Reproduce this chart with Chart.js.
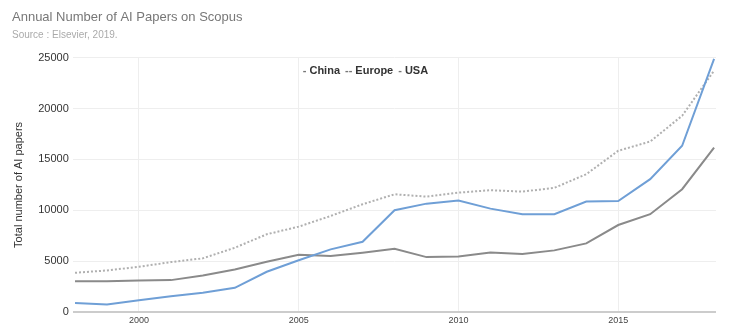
<!DOCTYPE html>
<html>
<head>
<meta charset="utf-8">
<title>Annual Number of AI Papers on Scopus</title>
<script src="https://cdn.jsdelivr.net/npm/chart.js@4.4.1/dist/chart.umd.min.js"></script>
<style>
  html, body { margin: 0; padding: 0; background: #fff; }
  #wrap { position: relative; width: 740px; height: 329px; }
</style>
</head>
<body>
<div id="wrap"><canvas id="papersChart"></canvas></div>
<script>
// Yearly paper counts, 1998 - 2018
const years = [1998, 1999, 2000, 2001, 2002, 2003, 2004, 2005, 2006, 2007, 2008,
               2009, 2010, 2011, 2012, 2013, 2014, 2015, 2016, 2017, 2018];
const china  = [910, 760, 1180, 1570, 1900, 2390, 3970, 5100, 6170, 6920, 10010,
                10660, 10960, 10170, 9620, 9620, 10860, 10920, 13060, 16340, 24870];
const europe = [3870, 4100, 4460, 4920, 5290, 6330, 7650, 8400, 9450, 10600, 11580,
                11350, 11740, 11980, 11840, 12210, 13550, 15850, 16760, 19290, 23720];
const usa    = [3050, 3050, 3120, 3150, 3610, 4200, 4950, 5640, 5510, 5840, 6230,
                5410, 5480, 5870, 5710, 6070, 6760, 8560, 9620, 12080, 16170];
const yearTicks = [2000, 2005, 2010, 2015];
const valueTicks = [0, 5000, 10000, 15000, 20000, 25000];

const FONT = "Arial, 'Liberation Sans', sans-serif";

function toPoints(values) {
    return values.map((v, i) => ({ x: years[i], y: v }));
}

// Small inline legend: "- China -- Europe - USA"
const inlineLegend = {
    id: 'inlineLegend',
    afterDraw(chart) {
        const ctx = chart.ctx;
        const area = chart.chartArea;
        let x = area.left + 230;
        const y = area.top + 13;
        ctx.save();
        ctx.font = 'bold 11px ' + FONT;
        ctx.textBaseline = 'middle';
        chart.data.datasets.forEach(ds => {
            const dashed = ds.borderDash && ds.borderDash.length;
            ctx.fillStyle = '#777';
            ctx.fillText(dashed ? '--' : '-', x, y);
            x += ctx.measureText(dashed ? '--' : '-').width + 3;
            ctx.fillStyle = '#333';
            ctx.fillText(ds.label, x, y);
            x += ctx.measureText(ds.label).width + 5;
        });
        ctx.restore();
    }
};

const ctx = document.getElementById('papersChart').getContext('2d');
const papersChart = new Chart(ctx, {
    type: 'line',
    data: {
        datasets: [{
            label: 'China',
            data: toPoints(china),
            borderColor: '#6f9fd6',
            borderWidth: 2,
            pointRadius: 0,
            tension: 0
        }, {
            label: 'Europe',
            data: toPoints(europe),
            borderColor: '#b0b0b0',
            borderWidth: 2,
            borderDash: [2, 2],
            pointRadius: 0,
            tension: 0
        }, {
            label: 'USA',
            data: toPoints(usa),
            borderColor: '#8a8a8a',
            borderWidth: 2,
            pointRadius: 0,
            tension: 0
        }]
    },
    options: {
        responsive: true,
        maintainAspectRatio: false,
        animation: false,
        layout: { padding: { left: 12, right: 24, top: 6, bottom: 0 } },
        plugins: {
            legend: { display: false },
            tooltip: { enabled: false },
            title: {
                display: true,
                text: 'Annual Number of AI Papers on Scopus',
                align: 'start',
                color: '#777',
                font: { family: FONT, size: 13, weight: 'normal' },
                padding: { top: 4, bottom: 2 }
            },
            subtitle: {
                display: true,
                text: 'Source : Elsevier, 2019.',
                align: 'start',
                color: '#aaa',
                font: { family: FONT, size: 10 },
                padding: { top: 2, bottom: 16 }
            }
        },
        scales: {
            x: {
                type: 'linear',
                min: 1997.93,
                max: 2018.06,
                afterBuildTicks: axis => {
                    axis.ticks = yearTicks.map(v => ({ value: v }));
                },
                ticks: {
                    color: '#444',
                    font: { family: FONT, size: 9 },
                    padding: 3,
                    maxRotation: 0,
                    callback: v => String(v)
                },
                grid: { color: '#eeeeee', drawTicks: false },
                border: { display: false }
            },
            y: {
                min: 0,
                max: 25000,
                afterBuildTicks: axis => {
                    axis.ticks = valueTicks.map(v => ({ value: v }));
                },
                title: {
                    display: true,
                    text: 'Total number of AI papers',
                    color: '#333',
                    font: { family: FONT, size: 11 },
                    padding: { top: 0, bottom: 9 }
                },
                ticks: {
                    color: '#333',
                    font: { family: FONT, size: 11 },
                    padding: 4,
                    callback: v => String(v)
                },
                grid: {
                    drawTicks: false,
                    color: c => c.tick && c.tick.value === 0 ? '#cccccc' : '#eeeeee',
                    lineWidth: c => c.tick && c.tick.value === 0 ? 2 : 1
                },
                border: { display: false }
            }
        }
    },
    plugins: [inlineLegend]
});
</script>
</body>
</html>
